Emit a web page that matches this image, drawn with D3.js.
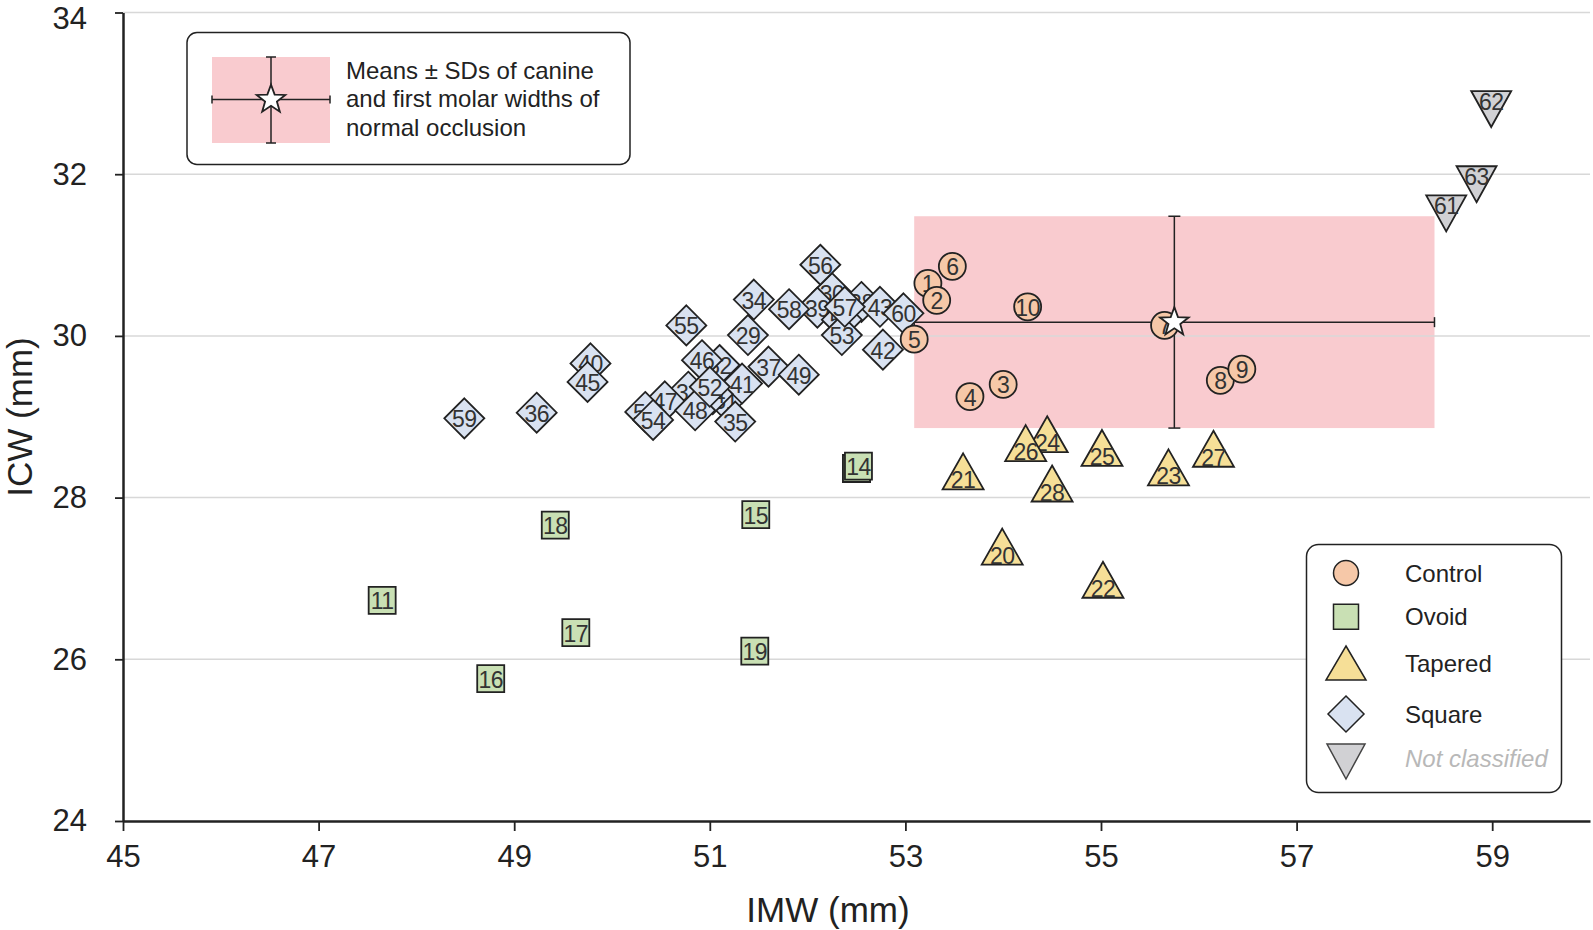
<!DOCTYPE html>
<html><head><meta charset="utf-8">
<script src="https://cdn.jsdelivr.net/npm/d3@7"></script>
<style>body{margin:0;background:#fff} svg{display:block;font-family:"Liberation Sans",Arial,Helvetica,sans-serif}</style>
</head><body><svg id="c" width="1593" height="930"></svg>
<script>
// ---- data ----
const xTicks = [45, 47, 49, 51, 53, 55, 57, 59];
const yTicks = [24, 26, 28, 30, 32, 34];

const controlIds = [1, 2, 3, 4, 5, 6, 7, 8, 9, 10];
const controlX   = [53.23, 53.32, 54.00, 53.66, 53.09, 53.48, 55.65, 56.22, 56.44, 54.25];
const controlY   = [30.65, 30.44, 29.40, 29.25, 29.96, 30.86, 30.13, 29.45, 29.59, 30.36];

const ovoidIds = [11, 12, 13, 14, 15, 16, 17, 18, 19];
const ovoidX   = [47.65, 52.50, 52.50, 52.52, 51.47, 48.76, 49.63, 49.42, 51.46];
const ovoidY   = [26.73, 28.36, 28.36, 28.39, 27.79, 25.76, 26.33, 27.66, 26.10];

const taperedIds = [20, 21, 22, 23, 24, 25, 26, 27, 28];
const taperedX   = [53.99, 53.59, 55.02, 55.69, 54.45, 55.01, 54.23, 56.15, 54.50];
const taperedY   = [27.32, 28.25, 26.91, 28.30, 28.71, 28.54, 28.60, 28.53, 28.10];

const squareIds = [29, 30, 31, 32, 33, 34, 35, 36, 37, 38, 39, 40, 41, 42, 43, 44,
                   45, 46, 47, 48, 49, 50, 51, 52, 53, 54, 55, 56, 57, 58, 59, 60];
const squareX   = [51.39, 52.25, 51.16, 51.10, 50.78, 51.45, 51.26, 49.23, 51.60, 52.55, 52.10, 49.78, 51.33, 52.77, 52.74, 51.03,
                   49.75, 50.92, 50.54, 50.85, 51.91, 50.34, 52.35, 51.00, 52.35, 50.42, 50.76, 52.13, 52.38, 51.81, 48.49, 52.98];
const squareY   = [30.01, 30.53, 29.21, 29.64, 29.31, 30.45, 28.94, 29.05, 29.62, 30.42, 30.35, 29.66, 29.41, 29.83, 30.36, 29.28,
                   29.43, 29.70, 29.19, 29.08, 29.52, 29.06, 30.20, 29.37, 30.01, 28.96, 30.13, 30.88, 30.36, 30.33, 28.98, 30.28];

const ncIds = [61, 62, 63];
const ncX   = [58.53, 58.99, 58.84];
const ncY   = [31.59, 32.88, 31.95];

const normalMean = [55.75, 30.17];   // [IMW, ICW]
const normalSD   = [2.66, 1.31];

const legendLabels = ["Control", "Ovoid", "Tapered", "Square", "Not classified"];
const noteLines = ["Means \u00B1 SDs of canine", "and first molar widths of", "normal occlusion"];

// ---- setup ----
const svg = d3.select("#c");
const x = d3.scaleLinear().domain([45, 60]).range([123, 1590]);
const y = d3.scaleLinear().domain([24, 34]).range([821, 12.5]);
const STROKE = "#222";

function circlePath(r){ return `M${-r},0A${r},${r} 0 1,0 ${r},0A${r},${r} 0 1,0 ${-r},0Z`; }
function squarePath(s){ const h=s/2; return `M${-h},${-h}H${h}V${h}H${-h}Z`; }
function diamondPath(d){ return `M0,${-d}L${d},0L0,${d}L${-d},0Z`; }
function triUpPath(w,h){ return `M0,${-2*h/3}L${w/2},${h/3}L${-w/2},${h/3}Z`; }
function triDownPath(w,h){ return `M0,${2*h/3}L${w/2},${-h/3}L${-w/2},${-h/3}Z`; }
function starPath(R,r){
  const pts=[];
  for(let i=0;i<10;i++){const a=-Math.PI/2+i*Math.PI/5;const rr=i%2?r:R;pts.push([rr*Math.cos(a),rr*Math.sin(a)]);}
  return "M"+pts.map(p=>p[0].toFixed(2)+","+p[1].toFixed(2)).join("L")+"Z";
}

const groups = {
  control: {fill:"#f6c8a8", path: circlePath(13.5), dy: 1},
  ovoid:   {fill:"#c9e0b4", path: squarePath(27), dy: 1},
  tapered: {fill:"#f6df97", path: triUpPath(41,36), dy: 3},
  square:  {fill:"#d9e2f1", path: diamondPath(20), dy: 1},
  nc:      {fill:"#d1d1d4", path: triDownPath(40,36), dy: -1}
};

// ---- normal occlusion rect ----
const rx0 = x(normalMean[0]-normalSD[0]), rx1 = x(normalMean[0]+normalSD[0]);
const ry0 = y(normalMean[1]+normalSD[1]), ry1 = y(normalMean[1]-normalSD[1]);
svg.append("rect").attr("x", rx0).attr("y", ry0).attr("width", rx1-rx0).attr("height", ry1-ry0)
  .attr("fill", "#f9cbcf");

// gridlines
svg.append("g").selectAll("line").data(yTicks.filter(t=>t>24)).join("line")
  .attr("x1", x(45)).attr("x2", x(60)).attr("y1", d=>y(d)).attr("y2", d=>y(d))
  .attr("stroke", "#d8d8d8").attr("stroke-width", 1.5);

// error bars
const eb = svg.append("g").attr("stroke", STROKE).attr("stroke-width", 1.5);
const mx = x(normalMean[0]), my = y(normalMean[1]);
eb.append("line").attr("x1", rx0).attr("x2", rx1).attr("y1", my).attr("y2", my);
eb.append("line").attr("x1", mx).attr("x2", mx).attr("y1", ry0).attr("y2", ry1);
[rx0, rx1].forEach(v=>eb.append("line").attr("x1", v).attr("x2", v).attr("y1", my-5).attr("y2", my+5));
[ry0, ry1].forEach(v=>eb.append("line").attr("x1", mx-6).attr("x2", mx+6).attr("y1", v).attr("y2", v));

// ---- axes ----
const xAxis = svg.append("g").attr("transform", `translate(0,${y(24)})`)
  .call(d3.axisBottom(x).tickValues(xTicks).tickSize(10).tickPadding(14).tickSizeOuter(0));
const yAxis = svg.append("g").attr("transform", `translate(${x(45)},0)`)
  .call(d3.axisLeft(y).tickValues(yTicks).tickSize(8).tickPadding(28).tickSizeOuter(0));
[xAxis, yAxis].forEach(a=>{
  a.select(".domain").attr("stroke", STROKE).attr("stroke-width", 2.5);
  a.selectAll(".tick line").attr("stroke", STROKE).attr("stroke-width", 1.8);
  a.selectAll(".tick text").attr("font-size", 31).attr("fill", "#222")
    .attr("font-family", '"Liberation Sans",Arial,sans-serif');
});
yAxis.selectAll(".tick text").filter(d=>d===34).attr("dy", "0.5em");
svg.append("text").attr("x", 828).attr("y", 909).attr("text-anchor", "middle")
  .attr("dominant-baseline", "central").attr("font-size", 35).attr("fill", "#222").text("IMW (mm)");
svg.append("text").attr("transform", `translate(19,417) rotate(-90)`).attr("text-anchor", "middle")
  .attr("dominant-baseline", "central").attr("font-size", 35).attr("fill", "#222").text("ICW (mm)");

// ---- points ----
function drawGroup(key, ids, xs, ys){
  const g = groups[key];
  const data = ids.map((id,i)=>({id, x: xs[i], y: ys[i]}));
  const sel = svg.append("g").selectAll("g").data(data).join("g")
    .attr("transform", d=>`translate(${x(d.x)},${y(d.y)})`);
  sel.append("path").attr("d", g.path).attr("fill", g.fill).attr("stroke", STROKE).attr("stroke-width", 1.8)
    .attr("stroke-linejoin", "miter");
  sel.append("text").attr("y", g.dy).attr("text-anchor", "middle").attr("dominant-baseline", "central")
    .attr("font-size", 23).attr("fill", "#333").attr("letter-spacing", -0.5).text(d=>d.id);
}
drawGroup("ovoid", ovoidIds, ovoidX, ovoidY);
drawGroup("tapered", taperedIds, taperedX, taperedY);
drawGroup("square", squareIds, squareX, squareY);
drawGroup("nc", ncIds, ncX, ncY);
drawGroup("control", controlIds, controlX, controlY);

// star
svg.append("path").attr("transform", `translate(${mx},${my})`).attr("d", starPath(15, 6.2))
  .attr("fill", "#fff").attr("stroke", STROKE).attr("stroke-width", 1.8);

// ---- annotation box ----
const ann = svg.append("g");
ann.append("rect").attr("x", 187).attr("y", 32.5).attr("width", 443).attr("height", 132).attr("rx", 10)
  .attr("fill", "#fff").attr("stroke", STROKE).attr("stroke-width", 1.5);
ann.append("rect").attr("x", 212).attr("y", 57).attr("width", 118).attr("height", 86).attr("fill", "#f9cbcf");
const acx = 271, acy = 99.6;
const ag = ann.append("g").attr("stroke", STROKE).attr("stroke-width", 1.5);
ag.append("line").attr("x1", 212).attr("x2", 330).attr("y1", acy).attr("y2", acy);
ag.append("line").attr("x1", acx).attr("x2", acx).attr("y1", 57).attr("y2", 143);
[212, 330].forEach(v=>ag.append("line").attr("x1", v).attr("x2", v).attr("y1", acy-4).attr("y2", acy+4));
[57, 143].forEach(v=>ag.append("line").attr("x1", acx-5).attr("x2", acx+5).attr("y1", v).attr("y2", v));
ann.append("path").attr("transform", `translate(${acx},${acy})`).attr("d", starPath(15, 6.2))
  .attr("fill", "#fff").attr("stroke", STROKE).attr("stroke-width", 1.8);
ann.selectAll("text.note").data(noteLines).join("text").attr("class", "note")
  .attr("x", 346).attr("y", (d,i)=>70 + i*28.5).attr("dominant-baseline", "central")
  .attr("font-size", 24).attr("fill", "#222").text(d=>d);

// ---- legend ----
const leg = svg.append("g");
leg.append("rect").attr("x", 1306.5).attr("y", 544.5).attr("width", 255).attr("height", 248).attr("rx", 12)
  .attr("fill", "#fff").attr("stroke", STROKE).attr("stroke-width", 1.5);
const legKeys = ["control", "ovoid", "tapered", "square", "nc"];
const legPaths = [circlePath(12.5), squarePath(25), "M0,-17L20,17L-20,17Z", diamondPath(18), "M0,19L19,-16L-19,-16Z"];
const legY = [573, 616.7, 663, 714, 760];
legKeys.forEach((k,i)=>{
  leg.append("path").attr("transform", `translate(1346,${legY[i]})`).attr("d", legPaths[i])
    .attr("fill", groups[k].fill).attr("stroke", k==="nc" ? "#444" : STROKE).attr("stroke-width", 1.5);
  leg.append("text").attr("x", 1405).attr("y", legY[i] + (i===4 ? -2 : 0)).attr("dominant-baseline", "central")
    .attr("font-size", 24)
    .attr("fill", i===4 ? "#b8b8b8" : "#222").attr("font-style", i===4 ? "italic" : "normal")
    .text(legendLabels[i]);
});
</script>
</body></html>
